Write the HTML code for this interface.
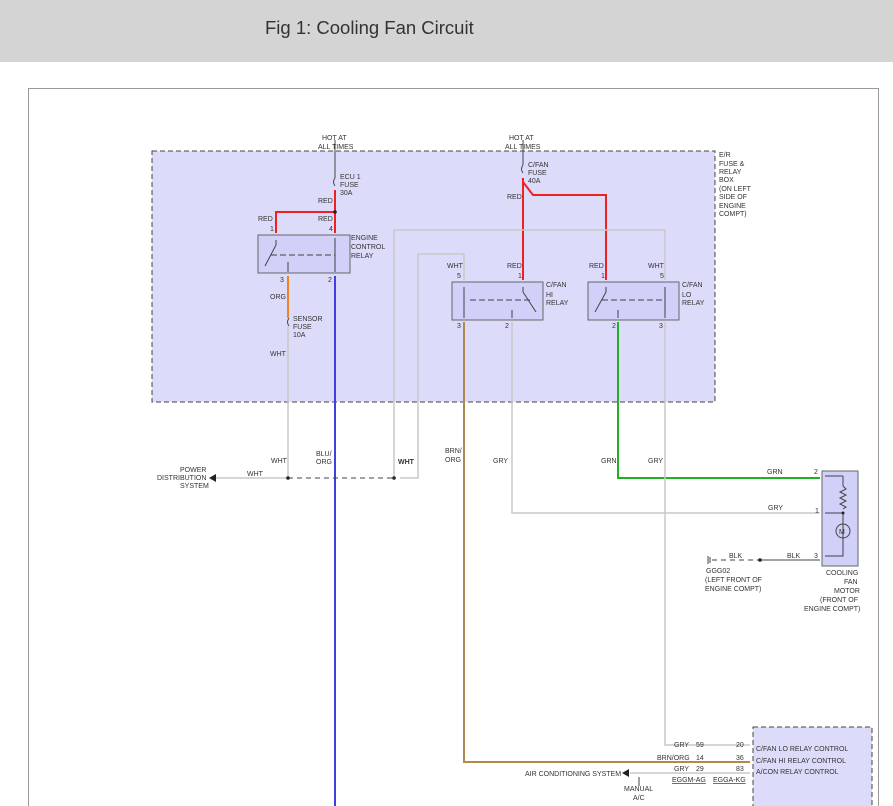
<!DOCTYPE html>
<html><head><meta charset="utf-8"><style>
body{margin:0;width:893px;height:806px;overflow:hidden;background:#fff;font-family:"Liberation Sans",sans-serif}
.h{position:absolute;left:0;top:0;width:893px;height:62px;background:#d4d4d4}
.h div{position:absolute;left:265px;top:17px;font-size:18.5px;color:#333}
svg{position:absolute;left:0;top:0}
text{font-family:"Liberation Sans",sans-serif;font-size:7px;fill:#333}
</style></head><body>
<div class="h"><div>Fig 1: Cooling Fan Circuit</div></div>
<svg width="893" height="806">
<rect x="28.5" y="88.5" width="850" height="730" fill="none" stroke="#999"/>
<rect x="152" y="151" width="563" height="251" fill="#dcdcfa" stroke="#444" stroke-dasharray="5,3"/>
<rect x="753" y="727" width="119" height="90" fill="#dcdcfa" stroke="#444" stroke-dasharray="5,3"/>
<rect x="822" y="471" width="36" height="95" fill="#d0d0f8" stroke="#666"/>
<rect x="258" y="235" width="92" height="38" fill="#d0d0f8" stroke="#666"/>
<rect x="452" y="282" width="91" height="38" fill="#d0d0f8" stroke="#666"/>
<rect x="588" y="282" width="91" height="38" fill="#d0d0f8" stroke="#666"/>
<g stroke="#444" fill="none">
<line x1="335" y1="140" x2="335" y2="178"/>
<line x1="523" y1="140" x2="523" y2="165"/>
<path d="M335 178 q-3 4 0 8" /><path d="M523 165 q-3 4 0 8"/>
<path d="M289 318 q-3 4 0 8"/>
<line x1="276" y1="240" x2="276" y2="245"/><line x1="276" y1="245" x2="265" y2="266"/>
<line x1="271" y1="255" x2="335" y2="255" stroke-dasharray="6,3"/>
<line x1="335" y1="238" x2="335" y2="272"/><line x1="288" y1="262" x2="288" y2="272"/>
<line x1="464" y1="287" x2="464" y2="318"/><line x1="470" y1="300" x2="530" y2="300" stroke-dasharray="6,3"/>
<line x1="523" y1="287" x2="523" y2="292"/><line x1="523" y1="292" x2="536" y2="312"/><line x1="512" y1="310" x2="512" y2="318"/>
<line x1="665" y1="287" x2="665" y2="318"/><line x1="602" y1="300" x2="665" y2="300" stroke-dasharray="6,3"/>
<line x1="606" y1="287" x2="606" y2="292"/><line x1="606" y1="292" x2="595" y2="312"/><line x1="618" y1="310" x2="618" y2="318"/>
<path d="M843 476 V486 M843 512 V545 M843 545 V556 H825 M825 513 H843 M825 476 H843"/>
<path d="M843 486 l3 3 -6 3 6 3 -6 3 6 3 -6 3 6 3 -3 2" />
<circle cx="843" cy="531" r="7"/>
<path d="M712 560 H760" stroke-dasharray="5,4"/><line x1="760" y1="560" x2="820" y2="560"/>
<line x1="708" y1="556" x2="708" y2="564"/><line x1="710" y1="557" x2="710" y2="563"/>
</g>
<text x="839" y="534" font-size="9">M</text>
<g fill="none" stroke-width="2">
<path d="M335 190 V233 M276 233 V212 H335" stroke="#f02020"/>
<path d="M523 178 V280 M523 182 L533 195 H606 V280" stroke="#f02020"/>
<path d="M288 276 V318" stroke="#f08020"/>
<path d="M335 276 V806" stroke="#4040e0"/>
<path d="M464 322 V762 H750" stroke="#b08850"/>
<path d="M618 322 V478 H820" stroke="#20b020"/>
</g>
<g fill="none" stroke="#c8c8c8" stroke-width="1.5">
<path d="M288 326 V478 M215 478 H288"/>
<path d="M394 478 V230 H665 V280"/>
<path d="M400 478 H418 V254 H464 V280"/>
<path d="M512 322 V513 H820"/>
<path d="M665 322 V745 H750"/>
<path d="M750 773 H630"/>
</g>
<path d="M288 478 H394" stroke="#444" stroke-dasharray="5,4" fill="none"/>
<g fill="#222"><circle cx="335" cy="212" r="1.8"/><circle cx="288" cy="478" r="1.8"/><circle cx="394" cy="478" r="1.8"/><circle cx="843" cy="513" r="1.5"/><circle cx="760" cy="560" r="1.8"/>
<path d="M209 478 l7 -4 v8z"/><path d="M622 773 l7 -4 v8z"/></g>
<line x1="639" y1="777" x2="639" y2="786" stroke="#444"/>
<text x="322" y="140">HOT AT</text><text x="318" y="149">ALL TIMES</text>
<text x="509" y="140">HOT AT</text><text x="505" y="149">ALL TIMES</text>
<text x="340" y="179">ECU 1</text><text x="340" y="187">FUSE</text><text x="340" y="195">30A</text>
<text x="528" y="167">C/FAN</text><text x="528" y="175">FUSE</text><text x="528" y="183">40A</text>
<text x="318" y="203">RED</text><text x="507" y="199">RED</text>
<text x="258" y="221">RED</text><text x="318" y="221">RED</text>
<text x="270" y="231">1</text><text x="329" y="231">4</text>
<text x="351" y="240">ENGINE</text><text x="351" y="249">CONTROL</text><text x="351" y="258">RELAY</text>
<text x="280" y="282">3</text><text x="328" y="282">2</text>
<text x="270" y="299">ORG</text>
<text x="293" y="321">SENSOR</text><text x="293" y="329">FUSE</text><text x="293" y="337">10A</text>
<text x="270" y="356">WHT</text>
<text x="719" y="157">E/R</text><text x="719" y="166">FUSE &amp;</text><text x="719" y="174">RELAY</text><text x="719" y="182">BOX</text><text x="719" y="191">(ON LEFT</text><text x="719" y="199">SIDE OF</text><text x="719" y="208">ENGINE</text><text x="719" y="216">COMPT)</text>
<text x="447" y="268">WHT</text><text x="507" y="268">RED</text><text x="589" y="268">RED</text><text x="648" y="268">WHT</text>
<text x="457" y="278">5</text><text x="518" y="278">1</text><text x="601" y="278">1</text><text x="660" y="278">5</text>
<text x="546" y="287">C/FAN</text><text x="546" y="297">HI</text><text x="546" y="305">RELAY</text>
<text x="682" y="287">C/FAN</text><text x="682" y="297">LO</text><text x="682" y="305">RELAY</text>
<text x="457" y="328">3</text><text x="505" y="328">2</text><text x="612" y="328">2</text><text x="659" y="328">3</text>
<text x="180" y="472">POWER</text><text x="157" y="480">DISTRIBUTION</text><text x="180" y="488">SYSTEM</text>
<text x="247" y="476">WHT</text><text x="271" y="463">WHT</text>
<text x="316" y="456">BLU/</text><text x="316" y="464">ORG</text>
<text x="398" y="464" font-weight="bold">WHT</text>
<text x="445" y="453">BRN/</text><text x="445" y="462">ORG</text>
<text x="493" y="463">GRY</text><text x="601" y="463">GRN</text><text x="648" y="463">GRY</text>
<text x="767" y="474">GRN</text><text x="814" y="474">2</text>
<text x="768" y="510">GRY</text><text x="815" y="513">1</text>
<text x="729" y="558">BLK</text><text x="787" y="558">BLK</text><text x="814" y="558">3</text>
<text x="706" y="573">GGG02</text><text x="705" y="582">(LEFT FRONT OF</text><text x="705" y="591">ENGINE COMPT)</text>
<text x="826" y="575">COOLING</text><text x="844" y="584">FAN</text><text x="834" y="593">MOTOR</text><text x="820" y="602">(FRONT OF</text><text x="804" y="611">ENGINE COMPT)</text>
<text x="674" y="747">GRY</text><text x="696" y="747">59</text><text x="736" y="747">20</text>
<text x="657" y="760">BRN/ORG</text><text x="696" y="760">14</text><text x="736" y="760">36</text>
<text x="674" y="771">GRY</text><text x="696" y="771">29</text><text x="736" y="771">83</text>
<text x="756" y="751">C/FAN LO RELAY CONTROL</text><text x="756" y="763">C/FAN HI RELAY CONTROL</text><text x="756" y="774">A/CON RELAY CONTROL</text>
<text x="525" y="776">AIR CONDITIONING SYSTEM</text>
<text x="672" y="782" text-decoration="underline">EGGM-AG</text><text x="713" y="782" text-decoration="underline">EGGA-KG</text>
<text x="624" y="791">MANUAL</text><text x="633" y="800">A/C</text>
</svg>
</body></html>
